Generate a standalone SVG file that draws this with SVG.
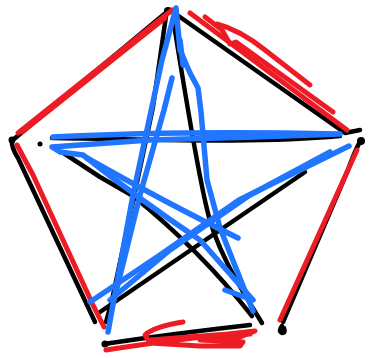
<svg xmlns="http://www.w3.org/2000/svg" width="369" height="358" viewBox="0 0 369 358">
<style>
path{fill:none;stroke-linecap:round;stroke-linejoin:round}
.k{stroke:#000;stroke-width:4.5}
.r{stroke:#ED1C24;stroke-width:5}
.b{stroke:#2176FF;stroke-width:5.5}
.dot{fill:#000}
</style>
<rect width="369" height="358" fill="#fff"/>
<g id="black-layer">
  <path class="k" d="M168,11 L14,139"/>
  <path class="k" d="M12,140 Q11,147 18,158 L95,322"/>
  <path class="k" d="M170,10 L345,133 L360,130"/>
  <path class="k" d="M361,140 Q355,150 348,170 L283,322"/>
  <path class="k" d="M104,344 Q170,334 250,325"/>
  <path class="k" d="M166,16 L153,107 L112,300 L106,322"/>
  <path class="k" d="M173,18 C186,100 198,170 206,205 C215,250 245,295 262,323"/>
  <path class="k" d="M52,138 C150,139 250,144 340,136"/>
  <path class="k" d="M62,152 L100,177 L133,196 Q200,250 252,316"/>
  <path class="k" d="M305,172 L100,312"/>
  <circle class="dot" cx="40" cy="144" r="2.5"/>
  <circle class="dot" cx="168" cy="11" r="4"/>
  <circle class="dot" cx="12" cy="140" r="3.5"/>
  <circle class="dot" cx="361" cy="141" r="4"/>
  <circle class="dot" cx="105" cy="344" r="3.5"/>
  <path class="k" d="M282,326 Q278,331 282,333 Q286,333 284,328"/>
</g>
<g id="red-layer">
  <path class="r" d="M18,133 L172,10"/>
  <path class="r" d="M22,132 L165,18"/>
  <path class="r" d="M17,145 L33,175 L93,305 L104,327"/>
  <path class="r" d="M190,13 L347,130"/>
  <path class="r" d="M205,17 L222,30 L230,44 L236,42 L333,112"/>
  <path class="r" d="M217,24 Q240,30 265,50 L310,85"/>
  <path class="r" d="M357,150 L280,320"/>
  <path class="r" d="M106,350 C150,343 200,337 255,331 L240,337 L200,340 L243,342 L240,346 L200,346 L150,343 L145,335 C150,330 165,325 183,322"/>
  <path class="r" d="M150,340 L215,335 L250,334"/>
</g>
<g id="blue-layer">
  <path class="b" d="M108,332 L133,195 L162,60 L176,8 L180,50 L190,73 L198,88 L201,112 L207,180 L220,228 L253,311"/>
  <path class="b" d="M172,78 L164,110 L140,195 L114,300"/>
  <path class="b" d="M183,65 L180,40"/>
  <path class="b" d="M53,137 C150,132 250,132 340,134 L255,137 L150,140 L52,147 L60,152 L83,155 Q140,200 200,240 L253,300 L225,290"/>
  <path class="b" d="M87,158 Q170,205 238,238"/>
  <path class="b" d="M349,146 L239,200 L160,255 L90,302"/>
  <path class="b" d="M330,152 L250,195 L170,250 L110,300"/>
</g>
</svg>
